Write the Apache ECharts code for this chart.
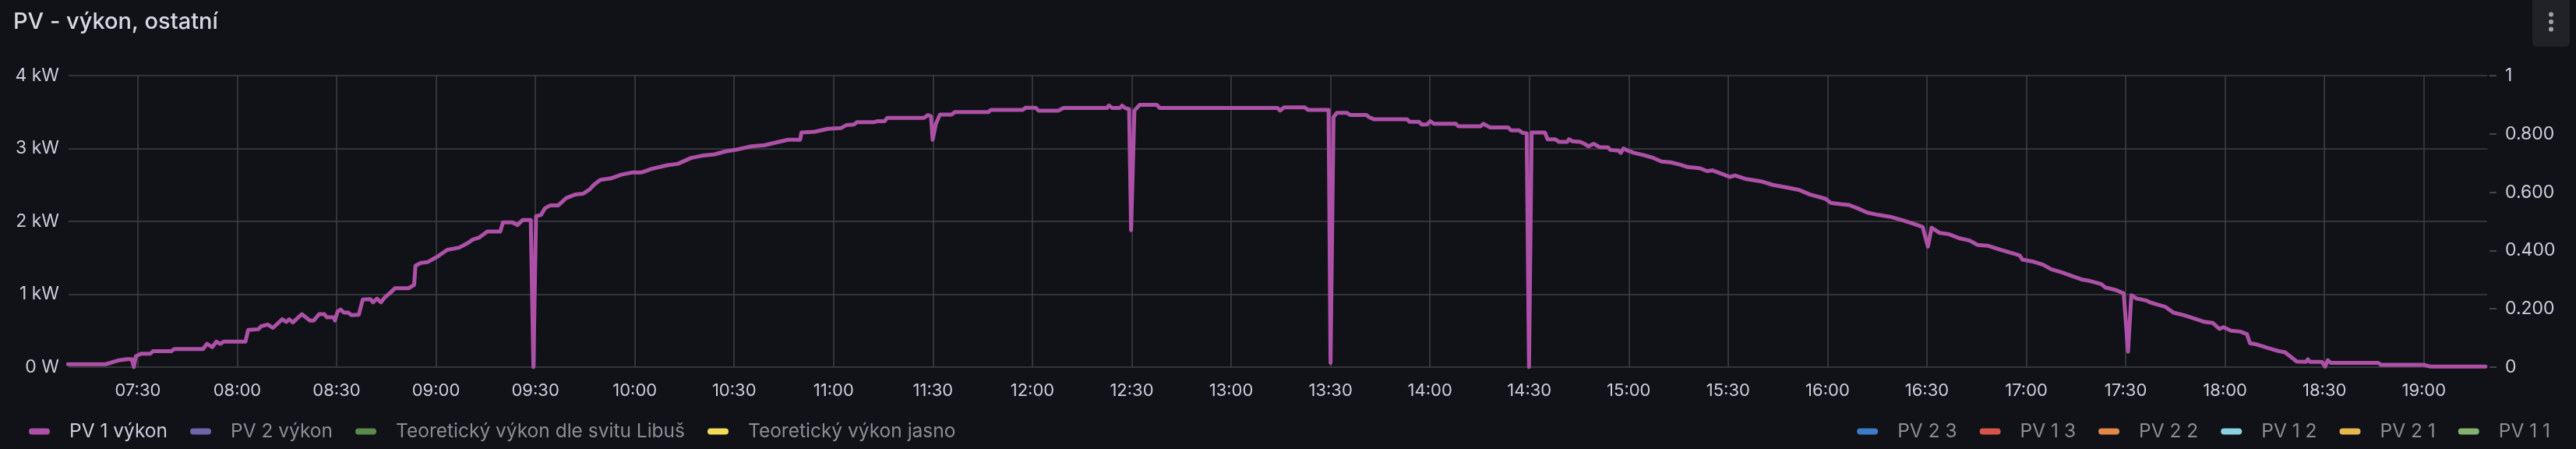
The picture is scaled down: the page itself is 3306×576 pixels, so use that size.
<!DOCTYPE html>
<html>
<head>
<meta charset="utf-8">
<title>PV - výkon, ostatní</title>
<script src="https://cdn.jsdelivr.net/npm/echarts@6/dist/echarts.min.js"></script>
<style>
  html, body { margin: 0; padding: 0; background: #111217; }
  #pvChart { width: 3306px; height: 576px; }
</style>
</head>
<body>
<div id="pvChart"></div>
<script>
// časy v minutách od půlnoci, výkon v kW
var pv1Minutes = [
  428.9, 440.3, 443.9, 446.7, 448.2, 448.8, 449.4, 451.0, 453.8, 454.6,
  460.2, 461.0, 469.7, 470.9, 472.5, 473.7, 474.9, 475.9, 482.5, 483.3,
  486.4, 487.2, 489.2, 490.8, 493.6, 494.8, 495.7, 496.8, 499.5, 501.9,
  503.1, 504.7, 506.3, 507.1, 509.1, 509.5, 510.3, 511.2, 512.2, 513.4,
  514.5, 516.7, 517.9, 520.2, 521.0, 522.2, 523.4, 524.6, 526.2, 527.6,
  531.8, 533.4, 533.8, 535.4, 537.4, 540.2, 543.4, 547.0, 549.5, 551.1,
  553.1, 555.5, 559.4, 560.2, 563.0, 564.6, 566.2, 568.6, 569.4, 570.2,
  571.7, 572.9, 574.5, 576.9, 579.3, 582.1, 584.4, 586.4, 587.6, 589.6,
  592.8, 595.9, 599.1, 601.9, 605.1, 609.8, 613.0, 617.0, 620.2, 624.1,
  627.3, 631.3, 635.2, 639.2, 642.4, 646.3, 649.9, 650.3, 654.3, 658.3,
  662.2, 663.8, 666.2, 667.0, 672.1, 673.3, 675.4, 676.2, 687.3, 688.5,
  689.4, 689.9, 690.9, 692.1, 695.6, 696.6, 706.7, 707.5, 717.1, 718.0,
  721.0, 721.8, 727.8, 729.4, 742.5, 743.1, 744.1, 746.4, 747.1, 748.0,
  749.2, 749.8, 750.8, 752.4, 757.5, 758.5, 794.0, 794.8, 796.0, 802.2,
  803.2, 809.4, 810.0, 810.9, 811.9, 814.9, 815.9, 820.8, 821.6, 823.2,
  833.1, 833.9, 836.7, 837.5, 839.1, 840.1, 841.2, 847.8, 848.6, 855.3,
  856.1, 858.1, 863.6, 864.4, 866.8, 868.0, 869.2, 869.9, 870.7, 874.7,
  875.5, 877.8, 879.0, 881.4, 882.0, 883.0, 885.4, 886.6, 887.8, 889.4,
  891.3, 893.7, 894.5, 896.9, 897.6, 898.4, 900.0, 901.6, 904.4, 907.5,
  909.9, 912.7, 915.4, 917.8, 921.4, 923.7, 925.3, 928.5, 930.5, 932.1,
  935.6, 940.4, 943.5, 948.3, 951.5, 954.6, 959.4, 961.0, 964.1, 966.5,
  969.3, 972.0, 975.2, 979.2, 982.3, 985.5, 988.7, 990.3, 991.4, 993.8,
  996.6, 999.7, 1002.9, 1005.3, 1008.5, 1011.6, 1014.8, 1018.0, 1018.8, 1021.9,
  1025.1, 1027.5, 1030.7, 1033.8, 1037.0, 1039.1, 1042.6, 1043.8, 1047.0, 1049.4,
  1050.7, 1051.7, 1053.3, 1056.1, 1057.3, 1059.7, 1062.0, 1064.4, 1067.6, 1070.7,
  1073.9, 1076.3, 1078.3, 1079.5, 1081.8, 1084.6, 1086.6, 1087.5, 1089.7, 1092.9,
  1096.1, 1098.1, 1101.6, 1104.4, 1105.0, 1105.6, 1109.2, 1110.2, 1111.0, 1111.9,
  1126.2, 1127.0, 1140.0, 1142.0, 1158.6
];
var pv1Kw = [
  0.04, 0.04, 0.09, 0.11, 0.11, 0.0, 0.15, 0.185, 0.185, 0.22,
  0.22, 0.25, 0.25, 0.32, 0.275, 0.35, 0.32, 0.35, 0.35, 0.51,
  0.52, 0.56, 0.585, 0.54, 0.656, 0.62, 0.656, 0.613, 0.727, 0.64,
  0.64, 0.727, 0.727, 0.684, 0.684, 0.64, 0.763, 0.79, 0.75, 0.75,
  0.713, 0.72, 0.927, 0.934, 0.89, 0.94, 0.89, 0.96, 1.02, 1.084,
  1.084, 1.13, 1.39, 1.43, 1.44, 1.51, 1.61, 1.64, 1.70, 1.75,
  1.78, 1.86, 1.86, 1.986, 1.986, 1.95, 2.02, 2.02, 0.0, 2.07,
  2.09, 2.18, 2.22, 2.22, 2.32, 2.37, 2.38, 2.44, 2.50, 2.57,
  2.59, 2.64, 2.67, 2.67, 2.72, 2.77, 2.79, 2.87, 2.90, 2.92,
  2.96, 2.99, 3.03, 3.045, 3.08, 3.12, 3.12, 3.22, 3.23, 3.27,
  3.28, 3.32, 3.33, 3.36, 3.36, 3.375, 3.375, 3.42, 3.42, 3.46,
  3.44, 3.12, 3.34, 3.465, 3.465, 3.50, 3.50, 3.53, 3.53, 3.56,
  3.56, 3.52, 3.52, 3.555, 3.555, 3.59, 3.555, 3.555, 3.59, 3.555,
  3.54, 1.88, 3.52, 3.60, 3.60, 3.555, 3.555, 3.52, 3.565, 3.565,
  3.53, 3.53, 0.06, 3.43, 3.49, 3.49, 3.46, 3.46, 3.43, 3.40,
  3.40, 3.365, 3.365, 3.33, 3.33, 3.375, 3.34, 3.34, 3.305, 3.305,
  3.34, 3.29, 3.29, 3.25, 3.25, 3.215, 3.21, 0.0, 3.22, 3.22,
  3.127, 3.127, 3.09, 3.09, 3.127, 3.10, 3.09, 3.065, 3.03, 3.065,
  3.016, 3.016, 2.98, 2.97, 2.94, 3.00, 2.966, 2.94, 2.91, 2.87,
  2.82, 2.81, 2.78, 2.745, 2.73, 2.69, 2.70, 2.645, 2.61, 2.63,
  2.58, 2.545, 2.50, 2.46, 2.43, 2.37, 2.31, 2.253, 2.235, 2.225,
  2.175, 2.12, 2.09, 2.06, 2.02, 1.975, 1.925, 1.654, 1.914, 1.843,
  1.825, 1.77, 1.736, 1.676, 1.665, 1.62, 1.576, 1.533, 1.476, 1.45,
  1.405, 1.344, 1.30, 1.25, 1.20, 1.184, 1.14, 1.094, 1.059, 1.012,
  0.214, 0.987, 0.941, 0.916, 0.89, 0.856, 0.827, 0.749, 0.713, 0.667,
  0.62, 0.606, 0.524, 0.549, 0.499, 0.488, 0.453, 0.328, 0.31, 0.264,
  0.221, 0.203, 0.078, 0.071, 0.107, 0.071, 0.071, 0.007, 0.096, 0.06,
  0.06, 0.032, 0.032, 0.007, 0.007
];

var xTickLabels = [
  '07:30', '08:00', '08:30', '09:00', '09:30', '10:00', '10:30', '11:00',
  '11:30', '12:00', '12:30', '13:00', '13:30', '14:00', '14:30', '15:00',
  '15:30', '16:00', '16:30', '17:00', '17:30', '18:00', '18:30', '19:00'
];
var leftTicks = [0, 1, 2, 3, 4];
var rightTicks = [0, 0.2, 0.4, 0.6, 0.8, 1];

var legendLeftNames = ['PV 1 výkon', 'PV 2 výkon', 'Teoretický výkon dle svitu Libuš', 'Teoretický výkon jasno'];
var legendLeftColors = ['#ad50a7', '#6e65a8', '#5b8a4c', '#f2dc5a'];
var legendRightNames = ['PV 2 3', 'PV 1 3', 'PV 2 2', 'PV 1 2', 'PV 2 1', 'PV 1 1'];
var legendRightColors = ['#3b7cc4', '#d65448', '#e2864a', '#8ad2e2', '#e6b84e', '#85b36f'];

function toMinutes (s) {
  var p = s.split(':')
  return Number(p[0]) * 60 + Number(p[1])
}
function pad (n) {
  return n < 10 ? '0' + n : '' + n
}

var chart = echarts.init(document.getElementById('pvChart'))

var pv1Data = pv1Minutes.map(function (m, i) { return [m, pv1Kw[i]] })
var xTicks = xTickLabels.map(toMinutes)

var series = [{
  name: legendLeftNames[0],
  type: 'line',
  data: pv1Data,
  showSymbol: false,
  itemStyle: { color: legendLeftColors[0] },
  lineStyle: { color: legendLeftColors[0], width: 5, cap: 'round', join: 'round' }
}]
// ostatní řady jsou v Grafaně skryté, zůstávají jen v legendě
legendLeftNames.slice(1).forEach(function (n, i) {
  series.push({ name: n, type: 'line', data: [], itemStyle: { color: legendLeftColors[i + 1] }, lineStyle: { color: legendLeftColors[i + 1] } })
})
legendRightNames.forEach(function (n, i) {
  series.push({ name: n, type: 'line', data: [], itemStyle: { color: legendRightColors[i] }, lineStyle: { color: legendRightColors[i] } })
})

var pill = 'path://M4,0 L23,0 A4,4 0 0 1 23,8 L4,8 A4,4 0 0 1 4,0 Z'
var gridColor = '#3f4046'
var textColor = '#ccccdc'
var dimText = '#8b8c96'

chart.setOption({
  backgroundColor: '#111217',
  animation: false,
  textStyle: { fontFamily: 'Inter' },
  title: {
    text: 'PV - výkon, ostatní',
    left: 17,
    top: 14,
    padding: 0,
    textStyle: { color: '#d8d9e3', fontSize: 29, fontWeight: 500, fontFamily: 'Inter' }
  },
  legend: [{
    left: 37,
    top: 541,
    padding: 0,
    icon: pill,
    itemWidth: 27,
    itemHeight: 8,
    itemGap: 29,
    selectedMode: false,
    textStyle: { fontSize: 24.5, fontFamily: 'Inter', padding: [0, 0, 0, 20] },
    data: legendLeftNames.map(function (n, i) {
      return { name: n, textStyle: { color: i === 0 ? textColor : dimText } }
    })
  }, {
    right: 33,
    top: 541,
    padding: 0,
    icon: pill,
    itemWidth: 27,
    itemHeight: 8,
    itemGap: 29,
    selectedMode: false,
    textStyle: { fontSize: 24.5, fontFamily: 'Inter', color: dimText, padding: [0, 0, 0, 20] },
    data: legendRightNames
  }],
  grid: {
    left: 88,
    right: 114,
    top: 97,
    bottom: 105
  },
  xAxis: {
    type: 'value',
    min: 429.1,
    max: 1159.1,
    axisLine: { show: false },
    axisTick: { show: false, customValues: xTicks },
    axisLabel: {
      customValues: xTicks,
      color: textColor,
      fontSize: 22,
      margin: 19,
      formatter: function (v) {
        var m = Math.round(v)
        return pad(Math.floor(m / 60)) + ':' + pad(m % 60)
      }
    },
    splitLine: { show: true, lineStyle: { color: gridColor, width: 1.5 } }
  },
  yAxis: [{
    type: 'value',
    min: leftTicks[0],
    max: leftTicks[leftTicks.length - 1],
    interval: 1,
    axisLine: { show: false },
    axisTick: { show: false },
    axisLabel: {
      color: textColor,
      fontSize: 23,
      margin: 12,
      formatter: function (v) { return v === 0 ? '0 W' : v + ' kW' }
    },
    splitLine: { show: true, lineStyle: { color: gridColor, width: 1.5 } }
  }, {
    type: 'value',
    position: 'right',
    offset: 3,
    min: rightTicks[0],
    max: rightTicks[rightTicks.length - 1],
    interval: 0.2,
    axisLine: { show: false },
    axisTick: { show: true, length: 9, lineStyle: { color: '#55565c', width: 1.5 } },
    axisLabel: {
      color: textColor,
      fontSize: 23,
      margin: 20,
      formatter: function (v) {
        if (v === 0 || v === 1) return String(v)
        return v.toFixed(3)
      }
    },
    splitLine: { show: false }
  }],
  graphic: [{
    type: 'rect',
    shape: { x: 3250, y: -8, width: 48, height: 68, r: 6 },
    style: { fill: '#202228' }
  }, {
    type: 'circle', shape: { cx: 3274, cy: 18.5, r: 3 }, style: { fill: '#a0a1aa' }
  }, {
    type: 'circle', shape: { cx: 3274, cy: 28, r: 3 }, style: { fill: '#a0a1aa' }
  }, {
    type: 'circle', shape: { cx: 3274, cy: 37.5, r: 3 }, style: { fill: '#a0a1aa' }
  }],
  series: series
})
</script>
</body>
</html>
